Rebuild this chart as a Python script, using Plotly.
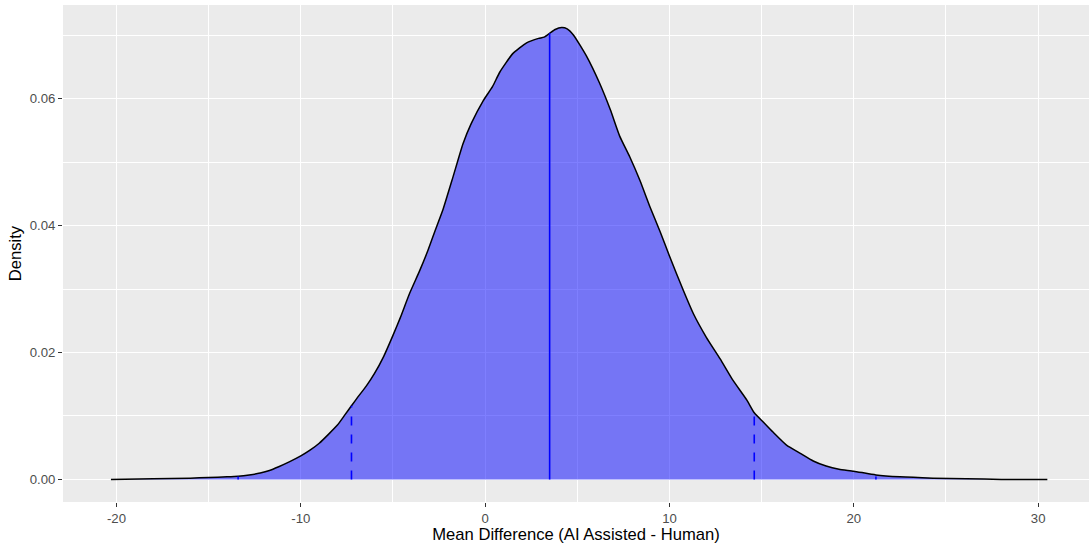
import plotly.graph_objects as go

# Density curve
mean_diff = [-20.3, -18, -16, -15, -14, -13.4, -12.8, -12.2, -11.7, -11.2, -10.6, -10.0,
             -9.5, -9.0, -8.5, -8.0, -7.6, -7.25, -6.9, -6.45, -6.0, -5.5, -5.0, -4.6,
             -4.1, -3.55, -3.1, -2.7, -2.3, -1.75, -1.2, -0.75, -0.1, 0.4, 0.8, 1.5,
             2.25, 2.9, 3.2, 3.5, 3.8, 4.15, 4.45, 4.8, 5.5, 6.2, 6.8, 7.3, 7.85, 8.4,
             8.95, 9.5, 10.0, 10.75, 11.3, 12.0, 12.75, 13.45, 14.2, 14.6, 15.1, 15.6,
             16.35, 17.1, 17.8, 18.5, 19.2, 20.0, 21.2, 22.5, 24.3, 26.1, 28.0, 30.5]
density = [0.0000, 0.0001, 0.0002, 0.0003, 0.0004, 0.0005, 0.0007, 0.0010, 0.0014, 0.0020,
           0.0028, 0.0037, 0.0046, 0.0057, 0.0071, 0.0086, 0.0102, 0.0116, 0.0130, 0.0147,
           0.0167, 0.0194, 0.0227, 0.0255, 0.0293, 0.0329, 0.0361, 0.0393, 0.0424, 0.0476,
           0.0529, 0.0561, 0.0597, 0.0619, 0.0642, 0.0671, 0.0688, 0.0695, 0.0697, 0.0703,
           0.0709, 0.0712, 0.0710, 0.0700, 0.0667, 0.0625, 0.0582, 0.0541, 0.0508, 0.0471,
           0.0429, 0.0390, 0.0352, 0.0298, 0.0261, 0.0224, 0.0190, 0.0156, 0.0125, 0.0105,
           0.0090, 0.0075, 0.0054, 0.0041, 0.0029, 0.0021, 0.0016, 0.0013, 0.0007, 0.0004,
           0.0002, 0.0001, 0.0000, 0.0000]

# Reference lines: mean (solid), 95% interval (dashed), 99% interval (dotted)
mean_x = [3.5]
mean_h = [0.0703]
ci95_x = [-7.25, 14.6]
ci95_h = [0.0116, 0.0105]
ci99_x = [-13.4, 21.2]
ci99_h = [0.0005, 0.0007]

x_ticks = [-20, -10, 0, 10, 20, 30]
y_ticks = [0.00, 0.02, 0.04, 0.06]
y_tick_labels = ["0.00", "0.02", "0.04", "0.06"]

fig = go.Figure()
fig.add_trace(go.Scatter(x=mean_diff, y=density, mode="lines", fill="tozeroy",
                         fillcolor="rgba(0,0,255,0.5)",
                         line=dict(color="black", width=1.5, shape="spline", smoothing=0.5),
                         showlegend=False, hoverinfo="skip"))

def add_vlines(xs, hs, dash):
    for xv, hv in zip(xs, hs):
        fig.add_trace(go.Scatter(x=[xv, xv], y=[0, hv], mode="lines",
                                 line=dict(color="blue", width=1.6, dash=dash),
                                 showlegend=False, hoverinfo="skip"))

add_vlines(mean_x, mean_h, "solid")
add_vlines(ci95_x, ci95_h, "dash")
add_vlines(ci99_x, ci99_h, "dot")

tick_font = dict(family="Liberation Sans, Arial, sans-serif", size=13.2, color="#4D4D4D")
title_font = dict(family="Liberation Sans, Arial, sans-serif", size=16.6, color="black")

fig.update_layout(
    width=1089, height=544,
    margin=dict(l=63, r=0, t=5, b=42),
    paper_bgcolor="white", plot_bgcolor="#EBEBEB",
    xaxis=dict(range=[-22.9, 32.76], tickmode="array", tickvals=x_ticks,
               ticktext=[str(v) for v in x_ticks],
               showgrid=True, gridcolor="white", gridwidth=1.3, zeroline=False,
               ticks="outside", ticklen=4, tickcolor="#333333", tickwidth=1,
               tickfont=tick_font, showline=False,
               minor=dict(dtick=5, tick0=0, showgrid=True, gridcolor="white", gridwidth=0.6, ticks=""),
               title=dict(text="Mean Difference (AI Assisted - Human)", font=title_font, standoff=0)),
    yaxis=dict(range=[-0.00356, 0.07476], tickmode="array", tickvals=y_ticks,
               ticktext=y_tick_labels,
               showgrid=True, gridcolor="white", gridwidth=1.3, zeroline=False,
               ticks="outside", ticklen=4, tickcolor="#333333", tickwidth=1,
               tickfont=tick_font, showline=False,
               minor=dict(dtick=0.01, tick0=0, showgrid=True, gridcolor="white", gridwidth=0.6, ticks=""),
               title=dict(text="Density", font=title_font, standoff=3)),
)

fig.write_html("out.html")
